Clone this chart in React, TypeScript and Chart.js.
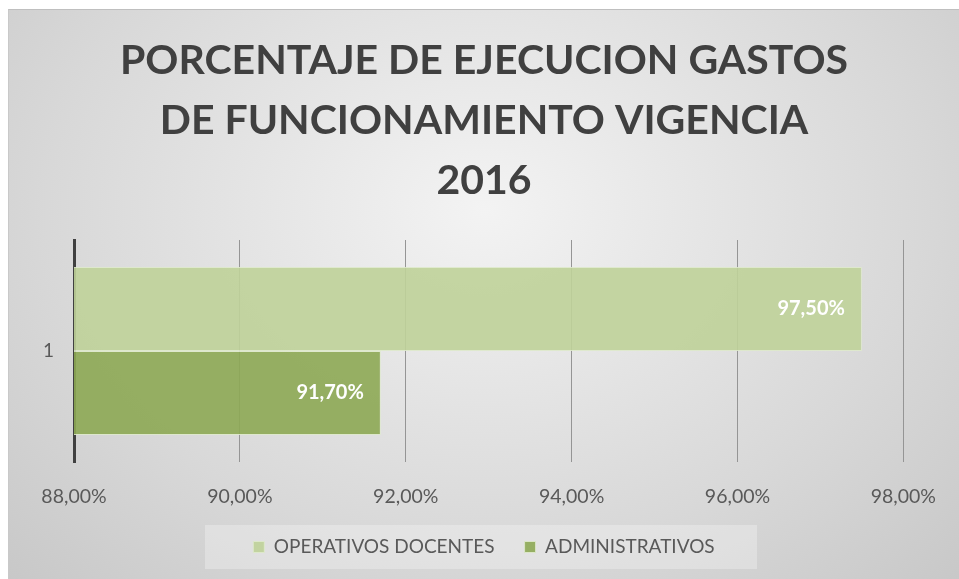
import React, { useEffect, useRef } from "react";
import { Chart, registerables } from "chart.js";

Chart.register(...registerables);

const categories = ["1"];
const seriesNames = ["OPERATIVOS DOCENTES", "ADMINISTRATIVOS"];
const operativosDocentes = [97.5];
const administrativos = [91.7];
const xTickValues = [88, 90, 92, 94, 96, 98];
const titleLines = ["PORCENTAJE DE EJECUCION GASTOS", "DE FUNCIONAMIENTO VIGENCIA", "2016"];

const fmt = (v: number) => v.toFixed(2).replace(".", ",") + "%";

const FONT = "Lato, 'Open Sans', sans-serif";

const legendBoxPlugin = {
  id: "legendBox",
  beforeDraw(chart: any) {
    const lg = chart.legend;
    if (!lg) return;
    const ctx = chart.ctx;
    const cx = (lg.left + lg.right) / 2 - 3;
    const w = 552;
    const top = 515;
    const h = 44;
    ctx.save();
    ctx.fillStyle = "rgba(255,255,255,0.28)";
    ctx.fillRect(cx - w / 2, top, w, h);
    ctx.restore();
  },
};

const dataLabelPlugin = {
  id: "dataLabels",
  afterDatasetsDraw(chart: any) {
    const ctx = chart.ctx;
    ctx.save();
    ctx.font = `bold 20px ${FONT}`;
    ctx.fillStyle = "#ffffff";
    ctx.textAlign = "right";
    ctx.textBaseline = "middle";
    chart.data.datasets.forEach((ds: any, i: number) => {
      const meta = chart.getDatasetMeta(i);
      meta.data.forEach((bar: any, j: number) => {
        ctx.fillText(fmt(ds.data[j]), bar.x - 17, bar.y);
      });
    });
    ctx.restore();
  },
};

export default function App() {
  const ref = useRef<HTMLCanvasElement | null>(null);

  useEffect(() => {
    if (!ref.current) return;
    const chart = new Chart(ref.current, {
      type: "bar",
      data: {
        labels: categories,
        datasets: [
          {
            label: seriesNames[0],
            data: operativosDocentes,
            backgroundColor: "rgba(191,210,153,0.9)",
            borderColor: "rgba(222,233,203,0.9)",
            borderWidth: 1,
            categoryPercentage: 0.757,
            barPercentage: 1,
          },
          {
            label: seriesNames[1],
            data: administrativos,
            backgroundColor: "rgba(141,168,84,0.9)",
            borderColor: "rgba(222,233,203,0.9)",
            borderWidth: 1,
            categoryPercentage: 0.757,
            barPercentage: 1,
          },
        ],
      },
      options: {
        indexAxis: "y",
        animation: false,
        responsive: true,
        maintainAspectRatio: false,
        layout: { padding: { top: 0, right: 0, bottom: 12.5, left: 0 } },
        plugins: {
          title: {
            display: true,
            text: titleLines,
            color: "#404040",
            font: { family: FONT, size: 41, weight: "bold", lineHeight: 60 / 41 },
            padding: { top: 21, bottom: 29 },
          },
          legend: {
            display: true,
            position: "bottom",
            labels: {
              color: "#595959",
              font: { family: FONT, size: 19 },
              boxWidth: 11,
              boxHeight: 11,
              padding: 30,
            },
          },
          tooltip: { enabled: false },
        },
        scales: {
          x: {
            type: "linear",
            min: 88,
            max: 98,
            afterBuildTicks: (s: any) => {
              s.ticks = xTickValues.map((v) => ({ value: v }));
            },
            afterFit: (s: any) => {
              s.height = 45.5;
            },
            ticks: {
              callback: (v: any) => fmt(Number(v)),
              color: "#595959",
              font: { family: FONT, size: 19.5 },
              padding: 23,
              maxRotation: 0,
            },
            grid: { color: "#959595", lineWidth: 1, drawTicks: false },
            border: { display: false },
          },
          y: {
            afterFit: (s: any) => {
              s.width = 65;
            },
            ticks: {
              color: "#595959",
              font: { family: FONT, size: 19 },
              padding: 20,
            },
            grid: { display: false, drawTicks: false },
            border: { display: true, color: "#404040", width: 3 },
          },
          yRight: {
            type: "category",
            position: "right",
            labels: categories,
            afterFit: (s: any) => {
              s.width = 55;
            },
            ticks: { display: false },
            grid: { display: false, drawTicks: false },
            border: { display: false },
          },
        },
      },
      plugins: [legendBoxPlugin, dataLabelPlugin],
    } as any);
    return () => chart.destroy();
  }, []);

  return (
    <div
      style={{
        position: "fixed",
        left: 8,
        top: 9,
        width: 951,
        height: 570,
        boxSizing: "border-box",
        borderTop: "1px solid #bfbfbf",
        borderLeft: "1px solid #c9c9c9",
        background:
          "radial-gradient(ellipse farthest-corner at 50% 35%, #f3f3f3 0%, #d8d8d8 65%, #c8c8c8 100%)",
      }}
    >
      <div style={{ position: "absolute", left: 0, top: 0, width: 950, height: 569 }}>
        <canvas ref={ref} />
      </div>
    </div>
  );
}
